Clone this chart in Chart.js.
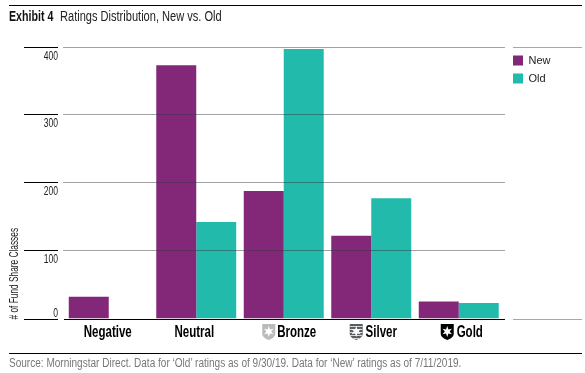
<!DOCTYPE html>
<html>
<head>
<meta charset="utf-8">
<script src="https://cdn.jsdelivr.net/npm/chart.js@4"></script>
<style>
html, body { margin: 0; padding: 0; background: #fff; }
#wrap { position: relative; width: 585px; height: 373px; overflow: hidden; font-family: "Liberation Sans", sans-serif; }
#myChart { position: absolute; left: 0; top: 0; }
.rule { position: absolute; left: 9px; width: 573px; background: #000; }
.squeeze { position: absolute; left: 9px; white-space: nowrap; transform-origin: 0 0; }
#head1 { top: 7px; font-size: 14px; line-height: 18px; font-weight: bold; color: #111; transform: scaleX(0.76); }
#head2 { left: 60px; top: 7px; font-size: 14px; line-height: 18px; color: #222; transform: scaleX(0.79); }
#source { top: 355px; font-size: 12px; line-height: 16px; color: #777; transform: scaleX(0.837); }
</style>
</head>
<body>
<div id="wrap">
  <canvas id="myChart" width="585" height="373"></canvas>
  <div class="rule" style="top:5px;height:1px"></div>
  <div class="squeeze" id="head1">Exhibit 4</div>
  <div class="squeeze" id="head2">Ratings Distribution, New vs. Old</div>
  <div class="rule" style="top:353px;height:1px"></div>
  <div class="squeeze" id="source">Source: Morningstar Direct. Data for ‘Old’ ratings as of 9/30/19. Data for ‘New’ ratings as of 7/11/2019.</div>
</div>
<script>
var categories = ["Negative", "Neutral", "Bronze", "Silver", "Gold"];
var newValues = [32, 373, 188, 122, 25];
var oldValues = [null, 142, 397, 177, 23];
var yTicks = [0, 100, 200, 300, 400];
var yTitle = "# of Fund Share Classes";

var FONT = '"Liberation Sans", sans-serif';
// label nudge from the tick, shield colour and shield nudge per rating
var labelStyle = {
    Negative: { shift: -1 },
    Neutral: { shift: -2 },
    Bronze: { shift: 13, color: "#b9bbbd", icon: -15 },
    Silver: { shift: 10, color: "#5a5d61", icon: -15, stripes: true },
    Gold: { shift: 11, color: "#000000", icon: -11.5 }
};

// the reference face is a condensed one, none is installed so squeeze it
function squeezedText(ctx, text, x, y, sx, align) {
    ctx.save();
    ctx.translate(x, y);
    ctx.scale(sx, 1);
    ctx.textAlign = align;
    ctx.textBaseline = "middle";
    ctx.fillText(text, 0, 0);
    ctx.restore();
}

function drawMedal(ctx, cx, top, color, stripes) {
    var w = 13, h = 16, l = cx - w / 2;
    ctx.save();
    ctx.beginPath();
    ctx.moveTo(l, top);
    ctx.lineTo(l + w, top);
    ctx.lineTo(l + w, top + h * 0.62);
    ctx.quadraticCurveTo(l + w, top + h * 0.85, cx, top + h);
    ctx.quadraticCurveTo(l, top + h * 0.85, l, top + h * 0.62);
    ctx.closePath();
    ctx.fillStyle = color;
    ctx.fill();
    if (stripes) {
        ctx.clip();
        ctx.fillStyle = "#d8d8d8";
        for (var s = 2; s < h; s += 3) ctx.fillRect(l, top + s, w, 1);
    }
    // star
    var cy = top + h * 0.47;
    ctx.beginPath();
    for (var i = 0; i < 12; i++) {
        var r = i % 2 == 0 ? 5.4 : 2.4;
        var a = Math.PI / 6 * i - Math.PI / 2;
        ctx.lineTo(cx + Math.cos(a) * r, cy + Math.sin(a) * r);
    }
    ctx.closePath();
    ctx.fillStyle = "#fff";
    ctx.fill();
    ctx.restore();
}

var exhibitPlugin = {
    id: "exhibit",
    afterLayout: function(chart) {
        // legend sits a bit further from the plot than its padding gives
        chart.legend.left = 506;
        chart.legend.top = 48;
    },
    afterDatasetsDraw: function(chart) {
        var ctx = chart.ctx, y = chart.scales.y, x = chart.scales.x;
        var left = chart.chartArea.left, right = chart.chartArea.right;
        ctx.save();
        ctx.lineWidth = 1;
        yTicks.forEach(function(v) {
            var py = (v == 0 ? Math.ceil(y.getPixelForValue(v)) : Math.floor(y.getPixelForValue(v))) + 0.5;
            ctx.strokeStyle = "#000";
            ctx.beginPath(); ctx.moveTo(24, py); ctx.lineTo(58, py); ctx.stroke();
            if (v == 0) {
                ctx.beginPath(); ctx.moveTo(left - 1, py); ctx.lineTo(right + 2.5, py); ctx.stroke();
            } else {
                ctx.strokeStyle = "rgba(50,50,60,0.45)";
                ctx.beginPath(); ctx.moveTo(left - 2, py); ctx.lineTo(right + 2.5, py); ctx.stroke();
            }
            if (v == 0 || v == 400) {
                ctx.strokeStyle = "#a8a8a8";
                ctx.beginPath(); ctx.moveTo(513, py); ctx.lineTo(582, py); ctx.stroke();
            }
            ctx.fillStyle = "#222";
            ctx.font = "13px " + FONT;
            squeezedText(ctx, String(v), 58, py + (v == 0 ? -6 : 8.5), 0.66, "right");
        });
        // axis title
        ctx.save();
        ctx.translate(14.5, y.getPixelForValue(0) + 1);
        ctx.rotate(-Math.PI / 2);
        ctx.font = "13px " + FONT;
        ctx.fillStyle = "#222";
        squeezedText(ctx, yTitle, 0, 0, 0.64, "left");
        ctx.restore();
        // category labels, with shields left of the rated ones
        categories.forEach(function(c, i) {
            var st = labelStyle[c], cx = x.getPixelForTick(i);
            ctx.fillStyle = "#000";
            ctx.font = "bold 16px " + FONT;
            squeezedText(ctx, c, cx + st.shift, 332.5, 0.72, "center");
            if (st.color) drawMedal(ctx, cx + st.icon, 324, st.color, st.stripes);
        });
        ctx.restore();
    }
};

var myChart = new Chart(document.getElementById("myChart"), {
    type: "bar",
    data: {
        labels: categories,
        datasets: [
            { label: "New", data: newValues, backgroundColor: "#832878", categoryPercentage: 0.914, barPercentage: 1 },
            { label: "Old", data: oldValues, backgroundColor: "#22bbab", categoryPercentage: 0.914, barPercentage: 1 }
        ]
    },
    plugins: [exhibitPlugin],
    options: {
        responsive: false,
        animation: false,
        layout: { padding: { left: 65, top: 47, right: 28, bottom: 54.5 } },
        plugins: {
            title: { display: false },
            tooltip: { enabled: false },
            legend: {
                position: "right",
                align: "start",
                labels: { boxWidth: 10, boxHeight: 10, padding: 7, color: "#222", font: { family: FONT, size: 11 } }
            }
        },
        scales: {
            x: {
                grid: { display: false, drawTicks: false },
                border: { display: false },
                ticks: { display: false }
            },
            y: {
                min: 0,
                max: 400,
                grid: { display: false, drawTicks: false },
                border: { display: false },
                afterBuildTicks: function(axis) { axis.ticks = yTicks.map(function(v) { return { value: v }; }); },
                ticks: { display: false }
            }
        }
    }
});
</script>
</body>
</html>
